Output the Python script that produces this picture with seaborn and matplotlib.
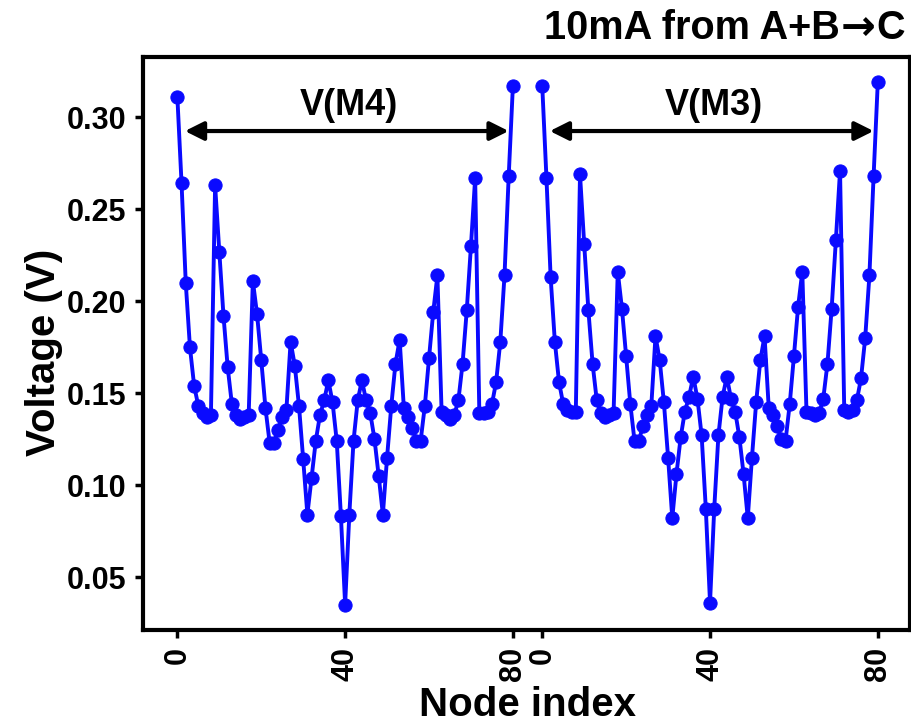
import numpy as np
import pandas as pd
import matplotlib
matplotlib.use("Agg")
import matplotlib.pyplot as plt
import seaborn as sns

# ---- data ----
node_index = list(range(81))
series_names = ["V(M4)", "V(M3)"]
offset_m3 = 87
tick_values = [0, 40, 80]
v_m4 = [
    0.311, 0.264, 0.210, 0.175, 0.154, 0.143, 0.139, 0.137, 0.138,
    0.263, 0.227, 0.192, 0.164, 0.144, 0.138, 0.136, 0.137, 0.138,
    0.211, 0.193, 0.168, 0.142, 0.123, 0.123, 0.130, 0.137, 0.141,
    0.178, 0.165, 0.143, 0.114, 0.084, 0.104, 0.124, 0.138, 0.146,
    0.157, 0.145, 0.124, 0.083, 0.035, 0.084, 0.124, 0.146, 0.157,
    0.146, 0.139, 0.125, 0.105, 0.084, 0.115, 0.143, 0.166, 0.179,
    0.142, 0.137, 0.131, 0.124, 0.124, 0.143, 0.169, 0.194, 0.214,
    0.140, 0.138, 0.136, 0.138, 0.146, 0.166, 0.195, 0.230, 0.267,
    0.139, 0.139, 0.140, 0.144, 0.156, 0.178, 0.214, 0.268, 0.317,
]
v_m3 = [
    0.317, 0.267, 0.213, 0.178, 0.156, 0.144, 0.141, 0.140, 0.140,
    0.269, 0.231, 0.195, 0.166, 0.146, 0.139, 0.137, 0.138, 0.139,
    0.216, 0.196, 0.170, 0.144, 0.124, 0.124, 0.132, 0.138, 0.143,
    0.181, 0.168, 0.145, 0.115, 0.082, 0.106, 0.126, 0.140, 0.148,
    0.159, 0.147, 0.127, 0.087, 0.036, 0.087, 0.127, 0.148, 0.159,
    0.147, 0.140, 0.126, 0.106, 0.082, 0.115, 0.145, 0.168, 0.181,
    0.142, 0.138, 0.132, 0.125, 0.124, 0.144, 0.170, 0.197, 0.216,
    0.140, 0.139, 0.138, 0.139, 0.147, 0.166, 0.196, 0.233, 0.271,
    0.141, 0.140, 0.141, 0.146, 0.158, 0.180, 0.214, 0.268, 0.319,
]
y_ticks = [0.05, 0.10, 0.15, 0.20, 0.25, 0.30]

df = pd.concat([
    pd.DataFrame({"x": node_index, "V": v_m4, "series": series_names[0]}),
    pd.DataFrame({"x": [i + offset_m3 for i in node_index], "V": v_m3, "series": series_names[1]}),
])

sns.set_theme(style="ticks")
plt.rcParams["font.family"] = ["Liberation Sans", "DejaVu Sans"]
plt.rcParams["font.weight"] = "bold"
for k in ["text.color", "axes.labelcolor", "xtick.color", "ytick.color", "axes.edgecolor"]:
    plt.rcParams[k] = "black"

fig = plt.figure(figsize=(9.12, 7.25), dpi=100)
ax = fig.add_axes([0.1563, 0.131, 0.8416, 0.790])

blue = "#0a0aff"
sns.lineplot(data=df, x="x", y="V", hue="series",
             palette={series_names[0]: blue, series_names[1]: blue},
             marker="o", markersize=9.5, markeredgecolor=blue,
             linewidth=2.8, legend=False, ax=ax, sort=False)

ax.set_xlim(-8.3, 174.7)
ax.set_ylim(0.0212, 0.3326)

xt = tick_values + [t + offset_m3 for t in tick_values]
ax.set_xticks(xt)
ax.set_xticklabels([str(t) for t in tick_values] * 2, rotation=90,
                   fontsize=22, fontweight="bold")
ax.set_yticks(y_ticks)
ax.set_yticklabels([f"{v:.2f}" for v in y_ticks], fontsize=22, fontweight="bold")
ax.tick_params(axis="both", length=6, width=2.5, color="black", pad=6)

for s in ax.spines.values():
    s.set_linewidth(3)
    s.set_color("black")

ax.set_xlabel("Node index", fontsize=29, fontweight="bold", va="center")
ax.set_ylabel("Voltage (V)", fontsize=29, fontweight="bold", va="center")
ax.xaxis.set_label_coords(0.502, -0.131)
ax.yaxis.set_label_coords(-0.128, 0.485)

# double-headed arrows and labels
for start, name in [(0, series_names[0]), (offset_m3, series_names[1])]:
    ax.annotate("", xy=(start + 1.8, 0.2925), xytext=(start + 79.0, 0.2925),
                arrowprops=dict(arrowstyle="<|-|>", color="black", lw=3,
                                mutation_scale=28, shrinkA=0, shrinkB=0))
    ax.text(start + 41, 0.3065, name, ha="center", va="center",
            fontsize=26, fontweight="bold")

# title: "10mA from A+B" + heavy arrow + "C", right aligned
fig.canvas.draw()
r = fig.canvas.get_renderer()
ty = 1 - 28 / 725
tC = fig.text(905 / 912, ty, "C", ha="right", va="center", fontsize=28.5, fontweight="bold")
bb = tC.get_window_extent(r)
tA = fig.text((bb.x0 - 1) / 912, ty, "\u2192", ha="right", va="center", fontsize=30,
              fontweight="bold", family=["DejaVu Sans"])
bb2 = tA.get_window_extent(r)
fig.text((bb2.x0 - 1) / 912, ty, "10mA from A+B", ha="right", va="center",
         fontsize=28.5, fontweight="bold")

fig.savefig("out.png", dpi=100)
